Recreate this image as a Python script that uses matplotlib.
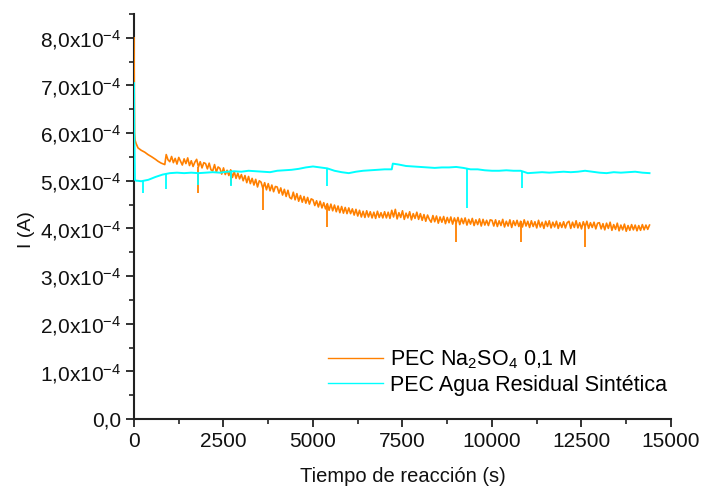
import numpy as np
import matplotlib
matplotlib.use("Agg")
import matplotlib.pyplot as plt
from matplotlib.ticker import MultipleLocator, FuncFormatter

plt.rcParams["font.family"] = ["Liberation Sans", "DejaVu Sans"]
plt.rcParams["mathtext.fontset"] = "custom"
plt.rcParams["mathtext.rm"] = "Liberation Sans"
plt.rcParams["mathtext.it"] = "Liberation Sans:italic"
plt.rcParams["mathtext.bf"] = "Liberation Sans:bold"

# ---- data (current in units of 1e-4 A, time in s) ----
na2so4_time = [0, 15, 30, 60, 112, 200, 300, 390, 500, 600, 670, 760, 860] + \
    list(range(900, 14401, 50))
na2so4_current = [
    8.00, 6.00, 5.85, 5.78, 5.69, 5.64, 5.60, 5.55, 5.50, 5.45, 5.41, 5.37, 5.34,
    5.55, 5.44,
    5.40, 5.51, 5.38, 5.47, 5.35, 5.49, 5.41, 5.33, 5.46, 5.36,
    5.48, 5.32, 5.42, 5.30, 5.39, 5.45, 5.29, 5.40, 5.27, 5.38,
    5.36, 5.25, 5.37, 5.23, 5.21, 5.34, 5.18, 5.29, 5.26, 5.14,
    5.27, 5.13, 5.22, 5.11, 5.23, 5.07, 5.19, 5.05, 5.16, 5.04,
    5.13, 5.00, 5.11, 4.96, 5.09, 4.94, 5.05, 4.91, 5.03, 4.87,
    5.00, 4.97, 4.84, 4.96, 4.81, 4.94, 4.79, 4.91, 4.77, 4.88,
    4.87, 4.74, 4.85, 4.70, 4.82, 4.67, 4.80, 4.65, 4.62, 4.76,
    4.60, 4.73, 4.57, 4.69, 4.55, 4.67, 4.53, 4.65, 4.51, 4.62,
    4.60, 4.48, 4.58, 4.45, 4.57, 4.43, 4.54, 4.41, 4.52, 4.38,
    4.51, 4.37, 4.49, 4.35, 4.47, 4.33, 4.46, 4.32, 4.44, 4.31,
    4.43, 4.31, 4.41, 4.28, 4.40, 4.26, 4.38, 4.24, 4.36, 4.23,
    4.37, 4.24, 4.35, 4.22, 4.34, 4.21, 4.36, 4.23, 4.33, 4.22,
    4.35, 4.22, 4.34, 4.21, 4.38, 4.24, 4.40, 4.20, 4.33, 4.23,
    4.37, 4.19, 4.32, 4.22, 4.35, 4.18, 4.31, 4.21, 4.34, 4.19,
    4.31, 4.17, 4.29, 4.15, 4.28, 4.19, 4.13, 4.27, 4.14, 4.26,
    4.11, 4.24, 4.13, 4.25, 4.10, 4.23, 4.12, 4.24, 4.09, 4.22,
    4.11, 4.23, 4.08, 4.21, 4.10, 4.22, 4.07, 4.19, 4.09, 4.21,
    4.06, 4.18, 4.08, 4.20, 4.05, 4.19, 4.07, 4.17, 4.06, 4.18,
    4.17, 4.05, 4.18, 4.04, 4.16, 4.06, 4.19, 4.03, 4.15, 4.05,
    4.18, 4.02, 4.16, 4.06, 4.17, 4.04, 4.15, 4.03, 4.18, 4.05,
    4.15, 4.02, 4.16, 4.04, 4.14, 4.01, 4.17, 4.03, 4.13, 4.00,
    4.15, 4.04, 4.16, 4.01, 4.13, 4.03, 4.15, 4.00, 4.12, 4.02,
    4.14, 4.01, 4.12, 4.15, 4.00, 4.13, 4.02, 4.16, 4.01, 4.12,
    3.99, 4.14, 4.03, 4.15, 4.00, 4.12, 4.02, 4.13, 3.99, 4.11,
    4.12, 3.99, 4.10, 3.97, 4.11, 4.00, 4.13, 3.96, 4.08, 3.98,
    4.11, 3.95, 4.07, 3.97, 4.09, 3.94, 4.06, 3.96, 4.08, 3.97,
    4.07, 3.95, 4.06, 3.96, 4.08, 3.97, 4.07, 3.98, 4.07,
]
na2so4_spike_time = [1800, 2700, 3600, 5400, 9000, 10800, 12600]
na2so4_spike_low = [4.75, 4.92, 4.39, 4.04, 3.72, 3.72, 3.62]

agua_time = [0, 8, 25, 60, 100,
             200, 400, 600, 800, 1000, 1200, 1400, 1600, 1800, 2000,
             2200, 2400, 2600, 2800, 3000, 3200, 3400, 3600, 3800, 4000,
             4200, 4400, 4600, 4800, 5000, 5200, 5400, 5600, 5800, 6000,
             6200, 6400, 6600, 6800, 7000, 7200, 7230, 7400, 7600, 7800, 8000,
             8200, 8400, 8600, 8800, 9000, 9200, 9400, 9600, 9800, 10000,
             10200, 10400, 10600, 10800, 11000, 11200, 11400, 11600, 11800, 12000,
             12200, 12400, 12600, 12800, 13000, 13200, 13400, 13600, 13800, 14000,
             14200, 14400]
agua_current = [7.05, 6.00, 5.02, 5.00, 5.00,
                4.99, 5.02, 5.08, 5.13, 5.16, 5.17, 5.16, 5.17, 5.16, 5.17,
                5.18, 5.17, 5.19, 5.20, 5.19, 5.21, 5.20, 5.19, 5.18, 5.21,
                5.22, 5.23, 5.25, 5.28, 5.30, 5.28, 5.26, 5.21, 5.18, 5.16,
                5.19, 5.21, 5.22, 5.23, 5.24, 5.24, 5.36, 5.34, 5.31, 5.30, 5.29,
                5.28, 5.27, 5.28, 5.28, 5.29, 5.27, 5.24, 5.24, 5.22, 5.21,
                5.21, 5.22, 5.21, 5.21, 5.16, 5.17, 5.18, 5.17, 5.18, 5.19,
                5.18, 5.19, 5.21, 5.19, 5.17, 5.16, 5.18, 5.17, 5.18, 5.19,
                5.17, 5.16]
agua_spike_time = [260, 900, 1800, 2700, 5400, 9300, 10850]
agua_spike_low = [4.75, 4.83, 4.92, 4.90, 4.90, 4.43, 4.85]

labels = [r"PEC Na$_2$SO$_4$ 0,1 M", "PEC Agua Residual Sintética"]
colors = ["#FF8000", "#00FFFF"]
widths = [1.2, 1.4]
scale = 1e-4

fig = plt.figure(figsize=(7.06, 4.88), dpi=100)
ax = fig.add_axes([0.1898, 0.1414, 0.9504 - 0.1898, 0.9713 - 0.1414])

series = [
    (na2so4_time, na2so4_current, na2so4_spike_time, na2so4_spike_low),
    (agua_time, agua_current, agua_spike_time, agua_spike_low),
]
for (t, v, st, sl), lab, c, w in zip(series, labels, colors, widths):
    t = np.asarray(t, float)
    v = np.asarray(v, float) * scale
    ax.plot(t, v, color=c, lw=w, label=lab, zorder=3)
    top = np.interp(st, t, v)
    ax.vlines(st, np.asarray(sl) * scale, top, color=c, lw=1.3, zorder=3)

ax.set_xlim(0, 15000)
ax.set_ylim(0, 8.5e-4)
ax.xaxis.set_major_locator(MultipleLocator(2500))
ax.xaxis.set_minor_locator(MultipleLocator(1250))
ax.yaxis.set_major_locator(MultipleLocator(1e-4))
ax.yaxis.set_minor_locator(MultipleLocator(0.5e-4))


def fmt_y(v, pos):
    if abs(v) < 1e-12:
        return "0,0"
    return ("%.1f" % (v / scale)).replace(".", ",") + r"x10$^{\mathregular{-4}}$"


ax.yaxis.set_major_formatter(FuncFormatter(fmt_y))

for s in ["top", "right"]:
    ax.spines[s].set_visible(False)
for s in ["left", "bottom"]:
    ax.spines[s].set_linewidth(1.5)
    ax.spines[s].set_color("#222222")
ax.tick_params(which="major", direction="out", length=6, width=1.3,
               labelsize=15, colors="#222222", labelcolor="#111111")
ax.tick_params(which="minor", direction="out", length=3.5, width=1.2,
               colors="#222222")

ax.set_xlabel("Tiempo de reacción (s)", fontsize=14.5, color="#111111")
ax.set_ylabel("I (A)", fontsize=14, color="#111111")
ax.yaxis.set_label_coords(-0.185, 0.467)
ax.xaxis.set_label_coords(0.5, -0.118)

leg = ax.legend(loc="upper left", bbox_to_anchor=(0.361, 0.175), frameon=False,
                fontsize=15.5, handlelength=2.55, handletextpad=0.33,
                labelspacing=0.2, borderpad=0, borderaxespad=0)
for ln in leg.get_lines():
    ln.set_linewidth(1.0)

fig.savefig("out.png", dpi=100)
